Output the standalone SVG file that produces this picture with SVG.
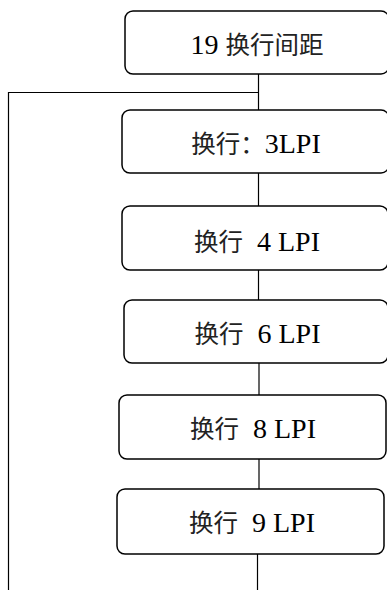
<svg xmlns="http://www.w3.org/2000/svg" width="387" height="590" viewBox="0 0 387 590">
<style>
.box{fill:#fff;stroke:#000;stroke-width:1.5}
.lbl{font-family:"Liberation Serif","Noto Sans CJK SC",serif;font-size:28px;fill:#000;text-anchor:middle}
.cjk{font-family:"Noto Sans CJK SC",sans-serif;font-size:24.5px;fill:#222}
.ln{stroke:#000;stroke-width:1.2;fill:none}
</style>
<rect width="387" height="590" fill="#fff"/>
<g id="connectors">
<line class="ln" x1="258.5" y1="74" x2="258.5" y2="110"/>
<polyline class="ln" points="258.5,92.5 8.5,92.5 8.5,590"/>
<line class="ln" x1="258.5" y1="173" x2="258.5" y2="206"/>
<line class="ln" x1="258.5" y1="270" x2="258.5" y2="300"/>
<line class="ln" x1="259" y1="363" x2="259" y2="395"/>
<line class="ln" x1="259" y1="459" x2="259" y2="489"/>
<line class="ln" x1="257.5" y1="554" x2="257.5" y2="590"/>
</g>
<g id="n1"><rect class="box" x="125" y="11" width="264" height="63" rx="8"/><text class="lbl" x="257" y="54">19 <tspan class="cjk">换行间距</tspan></text></g>
<g id="n2"><rect class="box" x="122" y="110" width="267" height="63" rx="8"/><text class="lbl" x="256" y="153"><tspan class="cjk">换行：</tspan>3LPI</text></g>
<g id="n3"><rect class="box" x="122" y="206" width="266" height="64" rx="8"/><text class="lbl" x="257" y="251" xml:space="preserve"><tspan class="cjk">换行</tspan>  4 LPI</text></g>
<g id="n4"><rect class="box" x="124" y="300" width="264" height="63" rx="8"/><text class="lbl" x="257.5" y="343" xml:space="preserve"><tspan class="cjk">换行</tspan>  6 LPI</text></g>
<g id="n5"><rect class="box" x="119" y="395" width="267" height="64" rx="8"/><text class="lbl" x="253" y="438" xml:space="preserve"><tspan class="cjk">换行</tspan>  8 LPI</text></g>
<g id="n6"><rect class="box" x="117" y="489" width="267" height="65" rx="8"/><text class="lbl" x="252" y="532" xml:space="preserve"><tspan class="cjk">换行</tspan>  9 LPI</text></g>
</svg>
